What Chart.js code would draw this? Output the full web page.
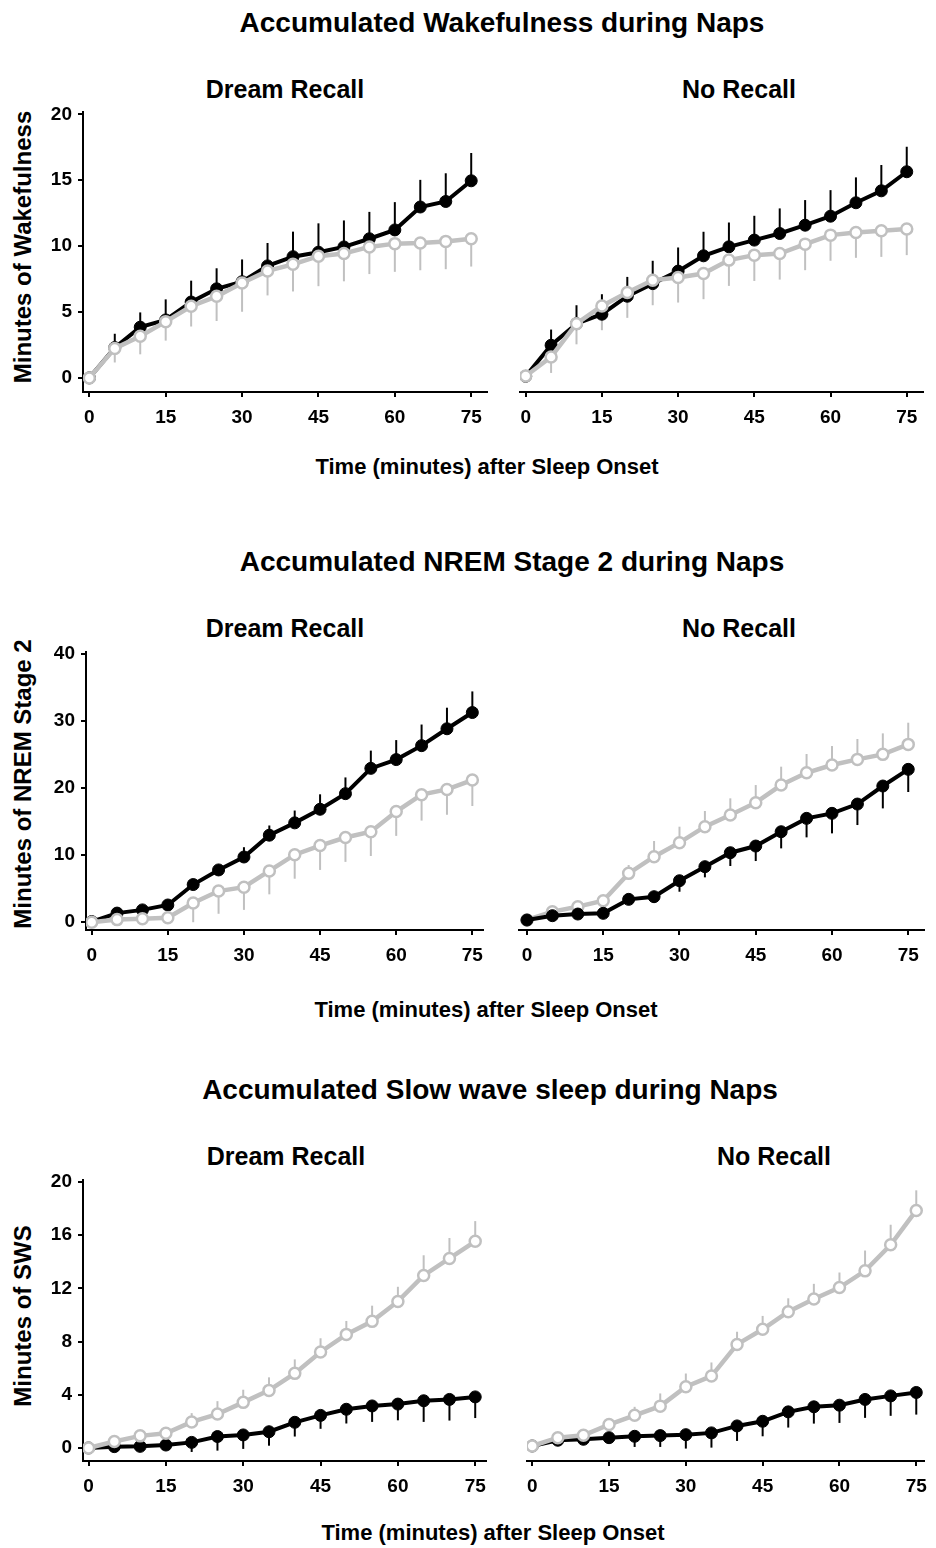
<!DOCTYPE html>
<html>
<head>
<meta charset="utf-8">
<script src="https://cdn.jsdelivr.net/npm/chart.js@4.4.1/dist/chart.umd.min.js"></script>
<style>
  body { margin: 0; background: #fff; }
  #page { position: relative; width: 936px; height: 1548px; font-family: "Liberation Sans", Arial, sans-serif; font-weight: bold; color: #000; }
  .txt { position: absolute; white-space: nowrap; line-height: 1; transform: translate(-50%, -50%); }
  .ylab { position: absolute; white-space: nowrap; line-height: 1; transform: translate(-50%, -50%) rotate(-90deg); font-size: 24px; }
  .title { font-size: 28px; }
  .sub { font-size: 25px; }
  .xlab { font-size: 22px; }
  canvas { position: absolute; }
</style>
</head>
<body>
<div id="page">
  <div class="txt title" style="left:502px;top:23px">Accumulated Wakefulness during Naps</div>
  <div class="txt sub" style="left:285px;top:89px">Dream Recall</div>
  <div class="txt sub" style="left:739px;top:89px">No Recall</div>
  <div class="ylab" style="left:23px;top:247px">Minutes of Wakefulness</div>
  <div class="txt xlab" style="left:487px;top:467px">Time (minutes) after Sleep Onset</div>

  <div class="txt title" style="left:512px;top:562px">Accumulated NREM Stage 2 during Naps</div>
  <div class="txt sub" style="left:285px;top:628px">Dream Recall</div>
  <div class="txt sub" style="left:739px;top:628px">No Recall</div>
  <div class="ylab" style="left:23px;top:784px">Minutes of NREM Stage 2</div>
  <div class="txt xlab" style="left:486px;top:1010px">Time (minutes) after Sleep Onset</div>

  <div class="txt title" style="left:490px;top:1090px">Accumulated Slow wave sleep during Naps</div>
  <div class="txt sub" style="left:286px;top:1156px">Dream Recall</div>
  <div class="txt sub" style="left:774px;top:1156px">No Recall</div>
  <div class="ylab" style="left:23px;top:1316px">Minutes of SWS</div>
  <div class="txt xlab" style="left:493px;top:1533px">Time (minutes) after Sleep Onset</div>

  <canvas id="wakeRecall"></canvas>
  <canvas id="wakeNoRecall"></canvas>
  <canvas id="stage2Recall"></canvas>
  <canvas id="stage2NoRecall"></canvas>
  <canvas id="swsRecall"></canvas>
  <canvas id="swsNoRecall"></canvas>
</div>

<script>
// minutes after sleep onset
const times = [0, 5, 10, 15, 20, 25, 30, 35, 40, 45, 50, 55, 60, 65, 70, 75];
const timeTicks = [0, 15, 30, 45, 60, 75];
const wakeTicks = [0, 5, 10, 15, 20];
const stage2Ticks = [0, 10, 20, 30, 40];
const swsTicks = [0, 4, 8, 12, 16, 20];

// wakefulness
const wakeRecallFilled = [0, 2.3, 3.85, 4.4, 5.76, 6.76, 7.3, 8.5, 9.2, 9.54, 9.94, 10.56, 11.23, 12.97, 13.39, 14.96];
const wakeRecallFilledSem = [0, 1.05, 1.12, 1.56, 1.62, 1.56, 1.69, 1.74, 1.9, 2.19, 2.01, 2.04, 2.11, 2.06, 2.14, 2.11];
const wakeRecallOpen = [0, 2.24, 3.16, 4.27, 5.44, 6.19, 7.2, 8.12, 8.62, 9.24, 9.44, 9.94, 10.19, 10.24, 10.36, 10.56];
const wakeRecallOpenSem = [0, 1.07, 1.37, 1.44, 1.54, 1.87, 2.18, 1.86, 2.06, 2.28, 2.11, 2.06, 2.14, 2.07, 2.11, 2.11];
const wakeNoRecallFilled = [0.1, 2.41, 4.02, 4.72, 6.06, 7.0, 7.93, 9.07, 9.74, 10.24, 10.73, 11.35, 12.02, 13.02, 13.91, 15.33];
const wakeNoRecallFilledSem = [0, 1.17, 1.37, 1.49, 1.44, 1.7, 1.76, 1.79, 1.81, 1.81, 1.87, 1.87, 1.94, 1.89, 1.92, 1.86];
const wakeNoRecallOpen = [0.12, 1.54, 4.02, 5.34, 6.34, 7.25, 7.45, 7.75, 8.75, 9.12, 9.24, 9.94, 10.61, 10.81, 10.93, 11.06];
const wakeNoRecallOpenSem = [0, 1.19, 1.54, 1.81, 1.89, 1.86, 1.86, 1.91, 1.92, 1.92, 1.94, 1.94, 1.91, 1.89, 1.94, 1.94];

// NREM stage 2
const stage2RecallFilled = [0.1, 1.36, 1.84, 2.57, 5.62, 7.8, 9.73, 12.98, 14.82, 16.85, 19.18, 22.95, 24.26, 26.34, 28.86, 31.28];
const stage2RecallFilledSem = [0, 0.44, 0.36, 0.38, 0.68, 0.7, 1.46, 1.45, 1.84, 2.23, 2.42, 2.65, 2.91, 3.15, 3.14, 3.15];
const stage2RecallOpen = [0, 0.39, 0.53, 0.68, 2.86, 4.65, 5.23, 7.65, 10.07, 11.43, 12.64, 13.51, 16.51, 19.03, 19.81, 21.21];
const stage2RecallOpenSem = [0, 0.3, 0.4, 0.5, 2.86, 3.39, 3.39, 3.49, 3.58, 3.63, 3.64, 3.63, 3.63, 3.87, 3.78, 3.87];
const stage2NoRecallFilled = [0.29, 0.92, 1.16, 1.26, 3.29, 3.68, 6.0, 8.04, 10.07, 11.04, 13.12, 15.06, 15.79, 17.14, 19.76, 22.18];
const stage2NoRecallFilledSem = [0, 0.3, 0.3, 0.3, 0.6, 0.9, 1.6, 1.55, 1.93, 2.18, 2.42, 2.76, 2.91, 3.05, 3.25, 3.29];
const stage2NoRecallOpen = [0.3, 1.5, 2.23, 3.1, 7.07, 9.49, 11.53, 13.85, 15.54, 17.34, 19.9, 21.69, 22.81, 23.63, 24.36, 25.81];
const stage2NoRecallOpenSem = [0, 0.3, 0.47, 0.6, 1.21, 2.28, 2.32, 2.28, 2.43, 2.56, 2.67, 2.72, 2.76, 2.96, 3.05, 3.15];

// slow wave sleep
const swsRecallFilled = [0, 0.1, 0.12, 0.22, 0.42, 0.86, 0.98, 1.22, 1.93, 2.45, 2.91, 3.16, 3.3, 3.55, 3.65, 3.84];
const swsRecallFilledSem = [0, 0.1, 0.15, 0.2, 0.72, 1.06, 1.05, 1.05, 1.07, 1.01, 1.07, 1.2, 1.22, 1.59, 1.59, 1.59];
const swsRecallOpen = [0, 0.49, 0.91, 1.1, 1.96, 2.55, 3.43, 4.33, 5.61, 7.22, 8.54, 9.52, 11.02, 12.97, 14.25, 15.54];
const swsRecallOpenSem = [0, 0.15, 0.2, 0.3, 0.66, 0.97, 0.95, 0.98, 1.05, 1.03, 1.01, 1.18, 1.1, 1.52, 1.54, 1.52];
const swsNoRecallFilled = [0.12, 0.54, 0.61, 0.73, 0.83, 0.88, 0.95, 1.08, 1.59, 1.93, 2.62, 2.99, 3.11, 3.53, 3.79, 4.04];
const swsNoRecallFilledSem = [0, 0.1, 0.1, 0.2, 0.78, 0.83, 1.02, 1.08, 1.1, 1.1, 1.15, 1.23, 1.3, 1.35, 1.46, 1.62];
const swsNoRecallOpen = [0.12, 0.73, 0.91, 1.69, 2.37, 3.04, 4.46, 5.24, 7.56, 8.67, 9.96, 10.89, 11.73, 12.95, 14.86, 17.38];
const swsNoRecallOpenSem = [0, 0.1, 0.15, 0.3, 0.62, 0.93, 0.97, 1.0, 0.93, 0.98, 0.98, 1.11, 1.1, 1.49, 1.47, 1.47];

const GREY = "#c0c0c0";
const FONT = { family: "'Liberation Sans', Arial, sans-serif", size: 19, weight: "bold" };

// one-sided SEM whiskers, drawn under lines and markers
const errorBars = {
  id: "errorBars",
  beforeDatasetsDraw(chart) {
    const { ctx } = chart;
    const x = chart.scales.x;
    const y = chart.scales.y;
    chart.data.datasets.forEach((ds) => {
      ctx.save();
      ctx.strokeStyle = ds.borderColor;
      ctx.lineWidth = 2;
      ds.sem.forEach((e, i) => {
        if (!e) return;
        const v = ds.data[i].y;
        const px = x.getPixelForValue(times[i]);
        ctx.beginPath();
        ctx.moveTo(px, y.getPixelForValue(v));
        ctx.lineTo(px, y.getPixelForValue(v + ds.dir * e));
        ctx.stroke();
      });
      ctx.restore();
    });
  },
};

const series = (values, sem, filled, dir, order) => ({
  data: values.map((v, i) => ({ x: times[i], y: v })),
  sem,
  dir,
  order,
  borderColor: filled ? "#000" : GREY,
  backgroundColor: filled ? "#000" : "#fff",
  borderWidth: filled ? 4 : 4.5,
  pointRadius: filled ? 6 : 5.5,
  pointBorderWidth: filled ? 1 : 2.5,
  pointBorderColor: filled ? "#000" : GREY,
  pointBackgroundColor: filled ? "#000" : "#fff",
  tension: 0,
});

// box = canvas position on the page, area = plot area edges on the page [l, t, r, b]
function panel(id, box, area, xRange, yRange, yTicks, showY, datasets) {
  const el = document.getElementById(id);
  const [bl, bt, bw, bh] = box;
  const [al, at, ar, ab] = area;
  el.style.left = bl + "px";
  el.style.top = bt + "px";
  el.width = bw;
  el.height = bh;

  const tickGrid = { drawOnChartArea: false, drawTicks: true, tickLength: 5, color: "#000", lineWidth: 2 };

  new Chart(el, {
    type: "line",
    data: { datasets },
    options: {
      responsive: false,
      animation: false,
      devicePixelRatio: 1,
      layout: {
        padding: { left: 0, top: at - bt, right: bl + bw - ar, bottom: 0 },
      },
      plugins: { legend: { display: false }, tooltip: { enabled: false } },
      scales: {
        x: {
          type: "linear",
          min: xRange[0],
          max: xRange[1],
          afterBuildTicks: (s) => { s.ticks = timeTicks.map((v) => ({ value: v })); },
          afterFit: (s) => { s.height = bt + bh - ab; },
          grid: tickGrid,
          border: { display: true, color: "#000", width: 2 },
          ticks: { color: "#000", font: FONT, padding: 9, maxRotation: 0, autoSkip: false },
        },
        y: {
          type: "linear",
          display: showY,
          min: yRange[0],
          max: yRange[1],
          afterBuildTicks: (s) => { s.ticks = yTicks.map((v) => ({ value: v })); },
          // hidden axis still reserves this width, which places the plot area
          afterFit: (s) => { s.width = al - bl; },
          grid: tickGrid,
          border: { display: true, color: "#000", width: 2 },
          ticks: { color: "#000", font: FONT, padding: 6 },
        },
      },
    },
    plugins: [errorBars],
  });
}

panel("wakeRecall", [0, 95, 495, 340], [83, 107, 487, 392], [-1.24, 78.1], [-1.07, 20.15], wakeTicks, true, [
  series(wakeRecallFilled, wakeRecallFilledSem, true, 1, 1),
  series(wakeRecallOpen, wakeRecallOpenSem, false, -1, 0),
]);
panel("wakeNoRecall", [495, 95, 441, 340], [520, 107, 923, 392], [-1.12, 78.2], [-1.07, 20.15], wakeTicks, false, [
  series(wakeNoRecallFilled, wakeNoRecallFilledSem, true, 1, 1),
  series(wakeNoRecallOpen, wakeNoRecallOpenSem, false, -1, 0),
]);
panel("stage2Recall", [0, 635, 495, 340], [86, 645, 483, 930], [-1.12, 77.1], [-1.16, 40.25], stage2Ticks, true, [
  series(stage2RecallFilled, stage2RecallFilledSem, true, 1, 1),
  series(stage2RecallOpen, stage2RecallOpenSem, false, -1, 0),
]);
panel("stage2NoRecall", [495, 635, 441, 340], [519, 645, 924, 930], [-1.57, 78.1], [-1.16, 40.25], stage2Ticks, false, [
  series(stage2NoRecallFilled, stage2NoRecallFilledSem, true, -1, 0),
  series(stage2NoRecallOpen, stage2NoRecallOpenSem, false, 1, 1),
]);
panel("swsRecall", [0, 1163, 495, 340], [83, 1173, 488, 1461], [-1.08, 77.06], [-0.98, 20.12], swsTicks, true, [
  series(swsRecallFilled, swsRecallFilledSem, true, -1, 1),
  series(swsRecallOpen, swsRecallOpenSem, false, 1, 0),
]);
panel("swsNoRecall", [495, 1163, 441, 340], [527, 1173, 930, 1461], [-1.02, 76.6], [-0.98, 20.12], swsTicks, false, [
  series(swsNoRecallFilled, swsNoRecallFilledSem, true, -1, 1),
  series(swsNoRecallOpen, swsNoRecallOpenSem, false, 1, 0),
]);
</script>
</body>
</html>
